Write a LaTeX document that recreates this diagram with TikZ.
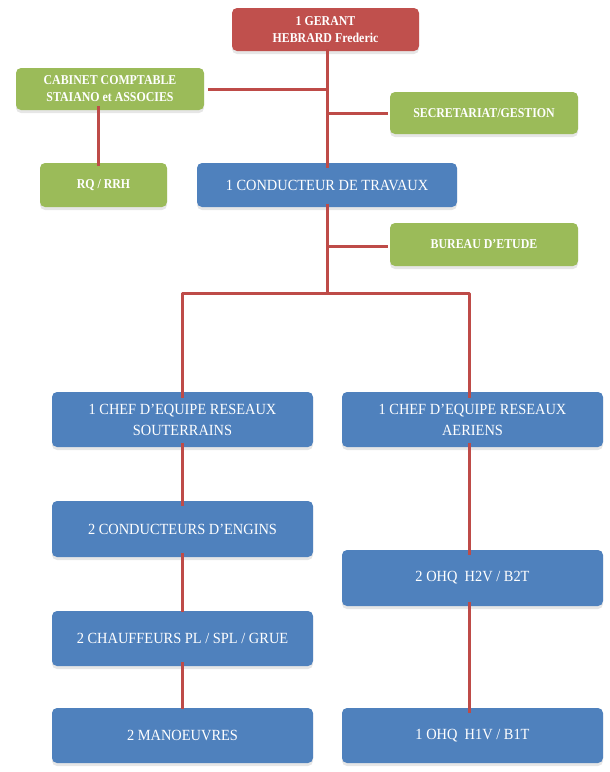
\documentclass[tikz,border=0pt]{standalone}
\usepackage{fontspec}
\setmainfont{Liberation Serif}
\definecolor{cred}{HTML}{C0504D}
\definecolor{cgreen}{HTML}{9BBB59}
\definecolor{cblue}{HTML}{4F81BD}
\definecolor{cline}{HTML}{BE4B48}
\definecolor{cshadow}{HTML}{E6E6E6}
\begin{document}
\begin{tikzpicture}[x=1pt,y=-1pt,
  box/.style={rounded corners=5pt, inner sep=0pt, text=white, align=center},
  shadowed/.style={preaction={fill=cshadow, transform canvas={yshift=-3pt}}},
  boldfont/.style={font=\bfseries\fontsize{13.5}{17}\selectfont},
  redbox/.style={box, fill=cred, shadowed, boldfont},
  greenbox/.style={box, fill=cgreen, shadowed, boldfont},
  bluebox/.style={box, fill=cblue, shadowed, font=\fontsize{15.5}{21}\selectfont},
  link/.style={draw=cline, line width=3pt}]
\useasboundingbox (0,0) rectangle (610,772);
\newcommand{\gc}[1]{\scalebox{0.88}[1]{#1}}
\newcommand{\bc}[1]{\scalebox{0.93}[1]{#1}}
% boxes
\node[redbox, minimum width=187pt, minimum height=43pt] (gerant) at (325.5,29.5) {\gc{1 GERANT}\\\gc{HEBRARD Frederic}};
\node[greenbox, minimum width=188pt, minimum height=42pt] (cabinet) at (110,89) {\gc{CABINET COMPTABLE}\\\gc{STAIANO et ASSOCIES}};
\node[greenbox, minimum width=188pt, minimum height=42pt] (secr) at (484,113) {\gc{SECRETARIAT/GESTION}};
\node[greenbox, minimum width=127pt, minimum height=44pt] (rq) at (103.5,185) {\gc{RQ / RRH}};
\node[bluebox, minimum width=260pt, minimum height=44pt] (cond) at (327,185) {\bc{1 CONDUCTEUR DE TRAVAUX}};
\node[greenbox, minimum width=188pt, minimum height=43pt] (bureau) at (484,244.5) {\gc{BUREAU D'ETUDE}};
\node[bluebox, minimum width=261pt, minimum height=55pt] (chefS) at (182.5,419.5) {\bc{1 CHEF D'EQUIPE RESEAUX}\\\bc{SOUTERRAINS}};
\node[bluebox, minimum width=261pt, minimum height=55pt] (chefA) at (472.5,419.5) {\bc{1 CHEF D'EQUIPE RESEAUX}\\\bc{AERIENS}};
\node[bluebox, minimum width=261pt, minimum height=56pt] (engins) at (182.5,529) {\bc{2 CONDUCTEURS D'ENGINS}};
\node[bluebox, minimum width=261pt, minimum height=55pt] (chauff) at (182.5,638.5) {\bc{2 CHAUFFEURS PL / SPL / GRUE}};
\node[bluebox, minimum width=261pt, minimum height=55pt] (manoeuv) at (182.5,735.5) {\bc{2 MANOEUVRES}};
\node[bluebox, minimum width=261pt, minimum height=56pt] (h2v) at (472.5,578) {\bc{2 OHQ\ \ H2V / B2T}};
\node[bluebox, minimum width=261pt, minimum height=55pt] (h1v) at (472.5,735.5) {\bc{1 OHQ\ \ H1V / B1T}};
% junction coordinates
\coordinate (jcab) at (327,89);
\coordinate (jsec) at (327,113);
\coordinate (jbur) at (327,246);
\coordinate (jbr) at (327,293);
\coordinate (bl) at (182,293);
\coordinate (br) at (469,293);
\coordinate (cx) at (98,100);
% connectors
\draw[link] ([yshift=2pt]gerant.south -| jcab) -- ([yshift=-5pt]cond.north -| jcab);
\draw[link] ([xshift=4pt]cabinet.east |- jcab) -- (jcab);
\draw[link] (jsec) -- ([xshift=-2pt]secr.west |- jsec);
\draw[link] ([yshift=4pt]cabinet.south -| cx) -- ([yshift=-3pt]rq.north -| cx);
\draw[link] ([yshift=3pt]cond.south -| jbr) -- (jbr);
\draw[link] (jbur) -- ([xshift=-2pt]bureau.west |- jbur);
\draw[link, line join=round] ([yshift=-6pt]chefS.north -| bl) -- (bl) -- (br) -- ([yshift=-6pt]chefA.north -| br);
\draw[link] ([yshift=4pt]chefS.south -| bl) -- ([yshift=-5pt]engins.north -| bl);
\draw[link] ([yshift=4pt]engins.south -| bl) -- ([yshift=-1pt]chauff.north -| bl);
\draw[link] ([yshift=4pt]chauff.south -| bl) -- ([yshift=-1pt]manoeuv.north -| bl);
\draw[link] ([yshift=4pt]chefA.south -| br) -- ([yshift=-5pt]h2v.north -| br);
\draw[link] ([yshift=4pt]h2v.south -| br) -- ([yshift=-5pt]h1v.north -| br);
\end{tikzpicture}
\end{document}
